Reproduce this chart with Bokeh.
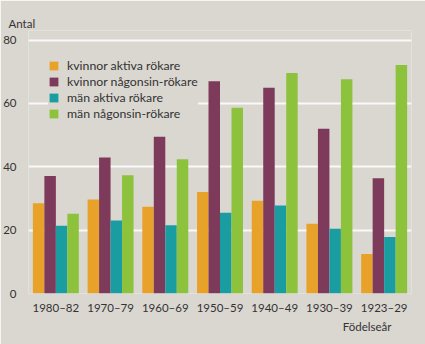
from bokeh.plotting import figure
from bokeh.models import ColumnDataSource, FactorRange, Legend, LegendItem, Title
from bokeh.transform import dodge
from bokeh.embed import file_html
from bokeh.resources import INLINE

categories = ["1980–82", "1970–79", "1960–69", "1950–59", "1940–49", "1930–39", "1923–29"]
series_names = ["kvinnor aktiva rökare", "kvinnor någonsin-rökare", "män aktiva rökare", "män någonsin-rökare"]
kvinnor_aktiva = [28.5, 29.7, 27.4, 32.0, 29.3, 22.0, 12.5]
kvinnor_nagonsin = [37.1, 42.9, 49.5, 67.0, 64.9, 52.0, 36.4]
man_aktiva = [21.4, 23.0, 21.5, 25.5, 27.8, 20.4, 17.8]
man_nagonsin = [25.2, 37.3, 42.4, 58.6, 69.6, 67.6, 72.1]
y_ticks = [0, 20, 40, 60, 80]
colors = ["#E8A229", "#7D3A5B", "#1A9DA1", "#8DC23D"]

BG = "#DAD7D1"
TXT = "#333333"
FONT = "Lato"

source = ColumnDataSource(dict(cat=categories, ka=kvinnor_aktiva, kn=kvinnor_nagonsin,
                               ma=man_aktiva, mn=man_nagonsin))

p = figure(x_range=FactorRange(*categories, range_padding=0), y_range=(0, 83),
           width=425, height=344, output_backend="svg", toolbar_location=None,
           min_border_left=28, min_border_right=14, min_border_top=30, min_border_bottom=51)
p.background_fill_color = BG
p.border_fill_color = BG
p.outline_line_color = None

bw = 0.21
offsets = [-1.5 * bw, -0.5 * bw, 0.5 * bw, 1.5 * bw]
fields = ["ka", "kn", "ma", "mn"]
renderers = []
for f, off, c in zip(fields, offsets, colors):
    r = p.vbar(x=dodge("cat", off, range=p.x_range), top=f, width=bw, source=source,
               fill_color=c, line_color=None)
    renderers.append(r)

p.xgrid.grid_line_color = None
p.ygrid.grid_line_color = "white"
p.ygrid.grid_line_width = 2
p.ygrid.grid_line_alpha = 0.85

p.yaxis.ticker = y_ticks
for ax in (p.xaxis[0], p.yaxis[0]):
    ax.axis_line_color = None
    ax.major_tick_line_color = None
    ax.minor_tick_line_color = None
    ax.major_label_text_font = FONT
    ax.major_label_text_font_size = "11.5px"
    ax.major_label_text_color = TXT
p.yaxis.major_label_standoff = 6
p.xaxis.major_label_standoff = 1

legend = Legend(items=[LegendItem(label=n, renderers=[r]) for n, r in zip(series_names, renderers)],
                location=(20, 172))
legend.background_fill_color = BG
legend.background_fill_alpha = 1
legend.border_line_color = None
legend.label_text_font = FONT
legend.label_text_font_size = "12.3px"
legend.label_text_color = TXT
legend.glyph_width = 11
legend.glyph_height = 11
legend.label_height = 16
legend.label_standoff = 8
legend.spacing = 0
legend.padding = 4
legend.margin = 0
p.add_layout(legend, "center")

t_top = Title(text="Antal", align="left", offset=-20, standoff=1,
              text_font=FONT, text_font_size="11.5px", text_color=TXT, text_font_style="normal")
p.add_layout(t_top, "above")
t_bot = Title(text="Födelseår", align="right", offset=20, standoff=2,
              text_font=FONT, text_font_size="11.5px", text_color=TXT, text_font_style="normal")
p.add_layout(t_bot, "below")

open("out.html", "w").write(file_html(p, INLINE))
